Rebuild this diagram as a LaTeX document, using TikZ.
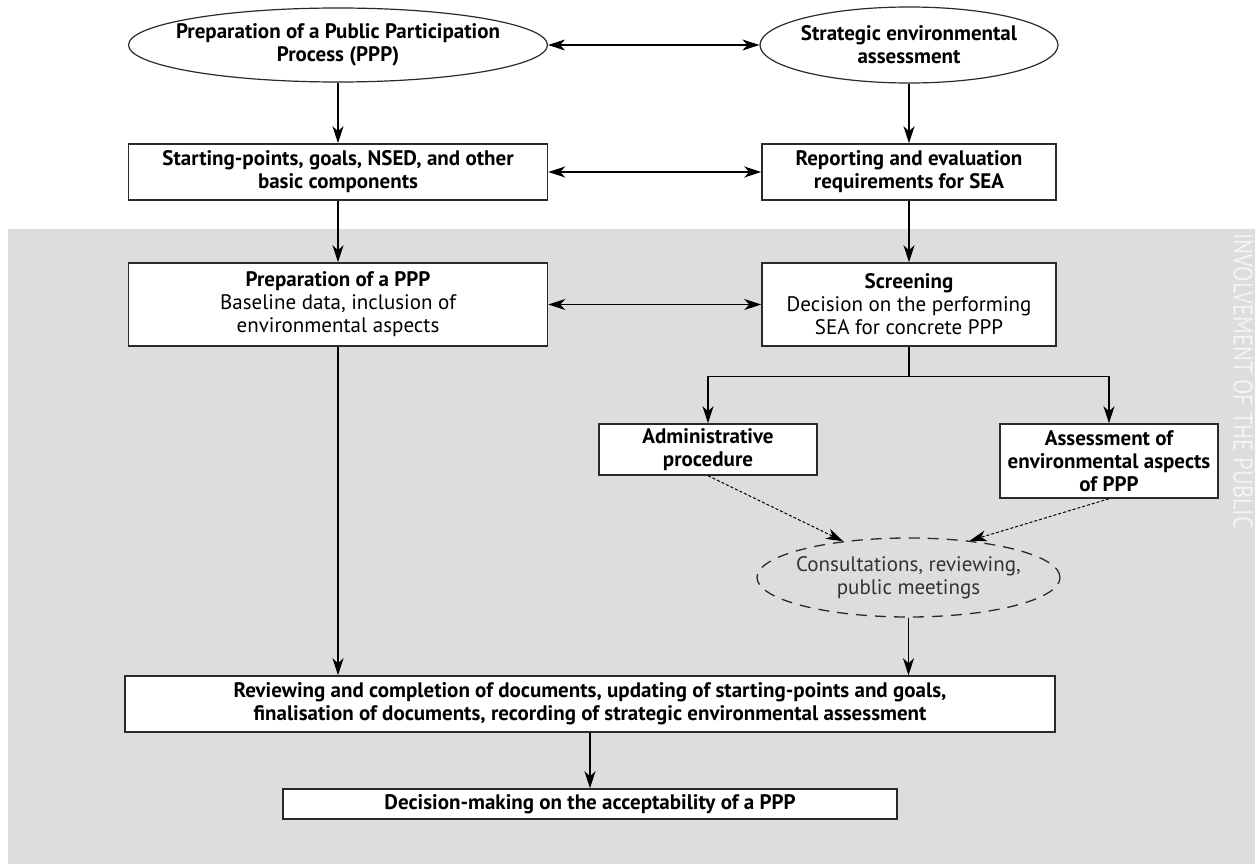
\documentclass[tikz,border=0pt]{standalone}
\usepackage{fontspec}
\setmainfont{PT Sans}
\newfontfamily\vfont{PT Sans}[FakeStretch=0.83]
\usetikzlibrary{shapes.geometric,arrows.meta}
\definecolor{bgray}{HTML}{DCDDDF}
\definecolor{boxc}{HTML}{2A2A2A}
\definecolor{vtext}{HTML}{F4F4F5}
\newcommand{\mfs}{\fontsize{21}{23}\selectfont}
\begin{document}
\begin{tikzpicture}[x=1pt,y=-1pt,
  box/.style={draw=boxc, line width=1.5pt, fill=white, inner sep=0pt, align=center, font=\mfs\bfseries},
  ell/.style={draw=boxc, line width=1.2pt, fill=white, ellipse, inner sep=0pt},
  dell/.style={draw=boxc, line width=1.3pt, dash pattern=on 11pt off 8pt, ellipse, inner sep=0pt},
  lbl/.style={align=center, font=\mfs\bfseries, inner sep=0pt},
  dlbl/.style={align=center, font=\mfs, text=black!80, inner sep=0pt},
  arr/.style={-{Stealth[length=17pt,width=11pt,inset=5pt]}, line width=1.1pt},
  darr/.style={{Stealth[length=17pt,width=11pt,inset=5pt]}-{Stealth[length=17pt,width=11pt,inset=5pt]}, line width=1.1pt},
  dotarr/.style={-{Stealth[length=17pt,width=11pt,inset=5pt]}, line width=1pt, dash pattern=on 3pt off 2pt},
  plain/.style={line width=1.1pt}
]
\useasboundingbox (0,0) rectangle (1255,864);
\fill[bgray] (8,229) rectangle (1255,864);
\node[rotate=-90, anchor=west, text=vtext, font=\vfont\fontsize{27}{27}\selectfont, inner sep=0pt] (vt) at (1243,233) {INVOLVEMENT OF THE PUBLIC};

\node[ell, minimum width=419pt, minimum height=74pt,
  label={[lbl]center:Preparation of a Public Participation\\Process (PPP)}] (e1) at (338,45) {};
\node[ell, minimum width=298pt, minimum height=76pt,
  label={[lbl]center:Strategic environmental\\assessment}] (e2) at (909,45) {};

\node[box, minimum width=419pt, minimum height=56pt] (b1) at (338,172) {Starting-points, goals, NSED, and other\\basic components};
\node[box, minimum width=294pt, minimum height=56pt] (b2) at (909,172) {Reporting and evaluation\\requirements for SEA};

\node[box, minimum width=419pt, minimum height=83pt] (b3) at (338,304.5) {Preparation of a PPP\\\mdseries Baseline data, inclusion of\\\mdseries environmental aspects};
\node[box, minimum width=294pt, minimum height=83pt] (b4) at (909,304.5) {Screening\\\mdseries Decision on the performing\\\mdseries SEA for concrete PPP};

\node[box, minimum width=218pt, minimum height=51pt] (b5) at (708,449.5) {Administrative\\procedure};
\node[box, minimum width=218pt, minimum height=74pt] (b6) at (1109,461) {Assessment of\\environmental aspects\\of PPP};

\node[dell, minimum width=303pt, minimum height=79pt,
  label={[dlbl]center:Consultations, reviewing,\\public meetings}] (e3) at (908.5,577.5) {};

\node[box, minimum width=930pt, minimum height=56pt] (b7) at (590,704) {Reviewing and completion of documents, updating of starting-points and goals,\\finalisation of documents, recording of strategic environmental assessment};
\node[box, minimum width=614pt, minimum height=30pt] (b8) at (590,804) {Decision-making on the acceptability of a PPP};

\draw[darr] (e1.east) -- (e2.west);
\draw[arr] (e1.south) -- (b1.north);
\draw[arr] (e2.south) -- (b2.north);
\draw[darr] (b1.east) -- (b2.west);
\draw[arr] (b1.south) -- (b3.north);
\draw[arr] (b2.south) -- (b4.north);
\draw[darr] (b3.east) -- (b4.west);
\coordinate (split) at ([yshift=-30pt]b4.south);
\draw[plain] (b4.south) -- (split);
\draw[arr] (split) -| (b5.north);
\draw[arr] (split) -| (b6.north);
\draw[dotarr] (b5.south) -- (e3.151);
\draw[dotarr] (b6.south) -- (e3.31);
\draw[arr] (e3.south) -- (e3.south |- b7.north);
\draw[arr] (b3.south) -- (b3.south |- b7.north);
\draw[arr] (b7.south) -- (b8.north);
\end{tikzpicture}
\end{document}
